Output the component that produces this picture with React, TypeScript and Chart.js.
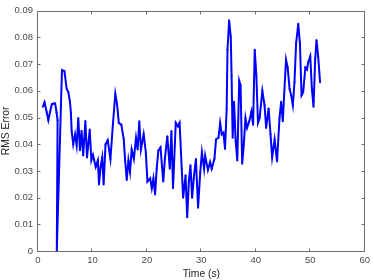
import React, { useEffect, useRef } from "react";
import { Chart, registerables } from "chart.js";

Chart.register(...registerables);

const timeS: number[] = [
  0.9, 1.2, 1.6, 1.9, 2.2, 2.55, 2.9, 3.15, 3.4, 3.6,
  3.45, 4.4, 4.85, 5.27, 5.57, 5.87, 6.05, 6.18, 6.47, 6.8,
  7.1, 7.4, 7.7, 8.0, 8.3, 8.7, 9.0, 9.5, 9.8, 10.1,
  10.6, 11.0, 11.2, 11.5, 11.8, 12.05, 12.4, 12.8, 13.3, 13.75,
  14.2, 14.5, 14.85, 15.3, 15.75, 16.0, 16.3, 16.6, 16.9, 17.2,
  17.6, 18.0, 18.3, 18.6, 18.9, 19.4, 19.8, 20.1, 20.6, 20.9,
  21.2, 21.5, 21.8, 22.1, 22.5, 23.0, 23.3, 23.75, 24.2, 24.5,
  24.8, 25.3, 25.7, 26.0, 26.4, 26.65, 27.1, 27.4, 27.7, 28.0,
  28.3, 28.6, 29.0, 29.4, 29.8, 30.1, 30.5, 30.7, 31.2, 31.6,
  31.9, 32.4, 32.7, 33.15, 33.45, 33.75, 34.05, 34.35, 34.65, 34.8,
  35.1, 35.4, 35.55, 35.75, 36.0, 36.3, 36.6, 36.95, 37.2, 37.5,
  37.8, 38.1, 38.4, 38.8, 39.2, 39.5, 39.8, 40.1, 40.4, 40.7,
  41.2, 41.6, 41.9, 42.35, 42.7, 43.0, 43.45, 43.9, 44.35, 44.65,
  44.95, 45.55, 45.85, 46.2, 46.5, 46.8, 47.1, 47.4, 47.8, 48.1,
  48.4, 48.7, 49.1, 49.4, 49.6, 50.0, 50.3, 50.6, 50.9, 51.15,
  51.45, 51.8,
];

const rmsError: number[] = [
  0.054, 0.0557, 0.052, 0.049, 0.052, 0.055, 0.0552, 0.0552, 0.052, 0.049,
  0.0, 0.0677, 0.0674, 0.0607, 0.0595, 0.0559, 0.0516, 0.0449, 0.04, 0.0437,
  0.0395, 0.0498, 0.0377, 0.045, 0.0358, 0.0487, 0.035, 0.0455, 0.034, 0.036,
  0.0315, 0.034, 0.0249, 0.0315, 0.035, 0.0249, 0.04, 0.0415, 0.0345, 0.0473,
  0.0589, 0.0552, 0.0479, 0.0473, 0.0418, 0.0339, 0.0266, 0.0339, 0.0296, 0.038,
  0.0345, 0.0424, 0.038, 0.0486, 0.038, 0.0437, 0.037, 0.026, 0.0272, 0.0235,
  0.0272, 0.0212, 0.0308, 0.0376, 0.0388, 0.026, 0.0345, 0.043, 0.0308, 0.0449,
  0.0235, 0.048, 0.0467, 0.048, 0.0308, 0.0199, 0.0284, 0.0126, 0.026, 0.0321,
  0.0199, 0.0272, 0.0345, 0.0162, 0.0296, 0.037, 0.0308, 0.0357, 0.0303, 0.0333,
  0.0308, 0.0345, 0.0418, 0.0424, 0.048, 0.0437, 0.0443, 0.0382, 0.0534, 0.0754,
  0.0864, 0.0802, 0.0656, 0.0424, 0.0559, 0.0412, 0.0339, 0.0638, 0.062, 0.0327,
  0.04, 0.0498, 0.0461, 0.0486, 0.0522, 0.0473, 0.0754, 0.0656, 0.048, 0.0498,
  0.06, 0.0546, 0.0461, 0.0534, 0.0437, 0.0351, 0.0418, 0.0335, 0.0498, 0.0559,
  0.0486, 0.0717, 0.0687, 0.0607, 0.0583, 0.0546, 0.0632, 0.0778, 0.0851, 0.0778,
  0.0583, 0.0595, 0.0687, 0.068, 0.0705, 0.0729, 0.0607, 0.054, 0.0717, 0.079,
  0.0729, 0.0632,
];

const xTicks: number[] = [0, 10, 20, 30, 40, 50, 60];
const yTicks: number[] = [0, 0.01, 0.02, 0.03, 0.04, 0.05, 0.06, 0.07, 0.08, 0.09];

const boxPlugin = {
  id: "boxFrame",
  afterDraw(chart: any) {
    const { ctx, chartArea } = chart;
    const xs = chart.scales.x;
    const ys = chart.scales.y;
    const l = Math.round(chartArea.left) - 0.5;
    const r = Math.round(chartArea.right) - 0.5;
    const t = Math.round(chartArea.top) + 0.5;
    const b = Math.round(chartArea.bottom) + 0.5;
    const tl = 3;
    ctx.save();
    ctx.strokeStyle = "#6e6e6e";
    ctx.lineWidth = 1;
    ctx.beginPath();
    ctx.rect(l, t, r - l, b - t);
    for (const v of xTicks) {
      const px = Math.round(xs.getPixelForValue(v)) - 0.5;
      ctx.moveTo(px, b);
      ctx.lineTo(px, b - tl);
      ctx.moveTo(px, t);
      ctx.lineTo(px, t + tl);
    }
    for (const v of yTicks) {
      const py = Math.round(ys.getPixelForValue(v)) + 0.5;
      ctx.moveTo(l, py);
      ctx.lineTo(l + tl, py);
      ctx.moveTo(r, py);
      ctx.lineTo(r - tl, py);
    }
    ctx.stroke();
    ctx.restore();
  },
};

export default function App() {
  const ref = useRef<HTMLCanvasElement | null>(null);

  useEffect(() => {
    document.body.style.margin = "0";
    if (!ref.current) return;
    const data = timeS.map((t, i) => ({ x: t, y: rmsError[i] }));
    const font = "'Liberation Sans', Arial, Helvetica, sans-serif";
    const chart = new Chart(ref.current, {
      type: "scatter",
      data: {
        datasets: [
          {
            data,
            showLine: true,
            borderColor: "#0000ff",
            backgroundColor: "#0000ff",
            borderWidth: 2,
            pointRadius: 1,
            pointBorderWidth: 0,
            tension: 0,
          },
        ],
      },
      options: {
        responsive: false,
        animation: false,
        events: [],
        layout: { padding: { top: 5, right: 6, left: 0, bottom: 0 } },
        plugins: { legend: { display: false }, tooltip: { enabled: false } },
        scales: {
          x: {
            type: "linear",
            min: 0,
            max: 60,
            afterFit: (s: any) => {
              s.height = 29;
            },
            afterBuildTicks: (s: any) => {
              s.ticks = xTicks.map((v) => ({ value: v }));
            },
            grid: { display: false, drawTicks: false },
            border: { display: false },
            ticks: {
              color: "#4a4a4a",
              padding: 4,
              maxRotation: 0,
              font: { family: font, size: 9.5 },
              callback: (v: any) => String(v),
            },
            title: {
              display: true,
              text: "Time (s)",
              color: "#262626",
              padding: { top: 0, bottom: 0 },
              font: { family: font, size: 10.3 },
            },
          },
          y: {
            type: "linear",
            min: 0,
            max: 0.09,
            afterFit: (s: any) => {
              s.width = 38;
            },
            afterBuildTicks: (s: any) => {
              s.ticks = yTicks.map((v) => ({ value: v }));
            },
            grid: { display: false, drawTicks: false },
            border: { display: false },
            ticks: {
              color: "#4a4a4a",
              padding: 5,
              font: { family: font, size: 9.5 },
              callback: (v: any) => String(Number(Number(v).toFixed(2))),
            },
            title: {
              display: true,
              text: "RMS Error",
              color: "#262626",
              padding: { top: 0, bottom: 0 },
              font: { family: font, size: 10.3 },
            },
          },
        },
      },
      plugins: [boxPlugin],
    });
    return () => chart.destroy();
  }, []);

  return (
    <div style={{ position: "absolute", left: 0, top: 0, width: 374, height: 280 }}>
      <canvas ref={ref} width={374} height={280} style={{ width: 374, height: 280 }} />
    </div>
  );
}
